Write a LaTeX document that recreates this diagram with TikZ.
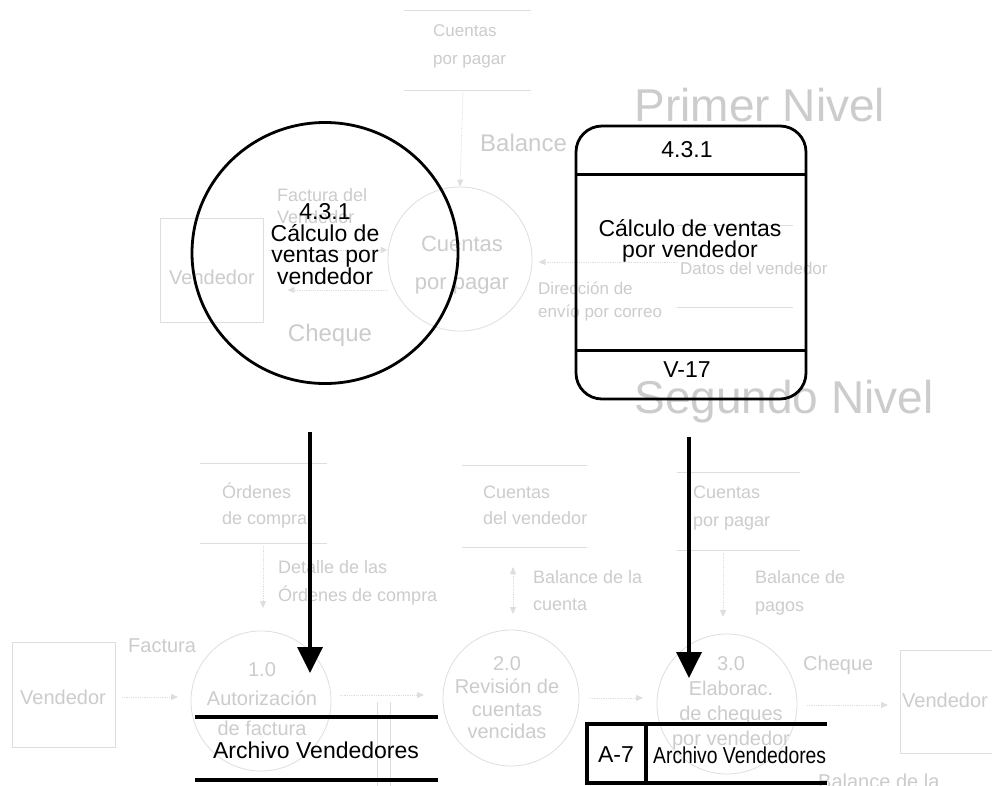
\documentclass[tikz,border=0pt]{standalone}
\usepackage{fontspec}
\usepackage{graphicx}
\setmainfont{Liberation Sans}
\usetikzlibrary{arrows.meta,shapes.geometric}

\colorlet{ghost}{black!20}
\colorlet{ghostline}{black!13}

\tikzset{
  ghosttext/.style={text=ghost, font=\fontsize{18}{26}\selectfont, inner sep=0pt, align=left},
  ghostbig/.style={text=ghost, font=\fontsize{46}{46}\selectfont, inner sep=0pt},
  ghoststore/.style={draw=ghostline, line width=0.8pt},
  ghostflow/.style={draw=ghostline, line width=0.8pt, densely dotted, -{Triangle[length=7pt,width=6pt]}},
  ghostflow2/.style={draw=ghostline, line width=0.8pt, densely dotted, {Triangle[length=7pt,width=6pt]}-{Triangle[length=7pt,width=6pt]}},
  ghostproc/.style={draw=ghostline, line width=0.8pt, circle, inner sep=0pt},
  ghostentity/.style={draw=ghostline, line width=0.8pt, rectangle, inner sep=0pt},
  ghostlabel/.style={text=ghost, font=\fontsize{20}{24}\selectfont, inner sep=0pt, align=center},
  boldtext/.style={font=\fontsize{23}{21.5}\selectfont, inner sep=0pt, align=center},
  boldline/.style={line width=2.8pt},
  storeline/.style={line width=3.6pt},
  flowarrow/.style={line width=3.6pt, -{Triangle[length=26pt,width=25pt]}},
}

\begin{document}
\lineskiplimit=-20pt
\begin{tikzpicture}[x=1pt,y=-1pt]
\clip (0,0) rectangle (992,785);
\fill[white] (0,0) rectangle (992,785);

% ===== faded first-level context diagram =====
\node[ghostbig] (lvl1) at (760,105) {Primer Nivel};
\node[ghostbig] (lvl2) at (784,402) {Segundo Nivel};

% store: Cuentas por pagar
\draw[ghoststore] (404,10) -- (531,10) (404,90) -- (531,90);
\node[ghosttext, font=\fontsize{17}{28}\selectfont, anchor=north west] (cxp1) at (433,24) {Cuentas\\por pagar};
\coordinate (cxp1out) at (463,92);

% process: Cuentas por pagar
\node[ghostproc, minimum size=144pt] (cp) at (460,259) {};
\node[ghostlabel, font=\fontsize{22}{38}\selectfont] (cpt) at (462,265) {Cuentas\\por pagar};
\draw[ghostflow] (cxp1out) -- (cp.north);
\node[ghosttext, font=\fontsize{24}{24}\selectfont, anchor=west] (lbal) at (480,143) {Balance};

% entity: Vendedor
\node[ghostentity, minimum width=103pt, minimum height=104pt] (v1) at (211.5,270) {};
\node[ghostlabel] (v1t) at (212,277) {Vendedor};
\draw[ghostflow] ([xshift=6pt,yshift=20pt]v1.east) -- ([yshift=9pt]cp.west);
\draw[ghostflow] ([yshift=-31pt]cp.west) -- ([xshift=24pt,yshift=-20pt]v1.east);
\node[ghosttext, font=\fontsize{18}{22}\selectfont, anchor=north west] (lfac) at (277,188) {Factura del\\Vendedor};
\node[ghosttext, font=\fontsize{24}{24}\selectfont] (lche) at (330,335) {Cheque};

% store: Datos del vendedor
\draw[ghoststore] (677,225) -- (793,225) (677,307) -- (793,307);
\node[ghosttext, font=\fontsize{17}{22}\selectfont, anchor=west] (dv) at (680,268) {Datos del vendedor};
\coordinate (dvout) at (677,262);
\draw[ghostflow] (dvout) -- ([xshift=6pt,yshift=-3pt]cp.east);
\node[ghosttext, font=\fontsize{17}{23}\selectfont, anchor=north west] (ldir) at (538,282) {Dirección de\\envío por correo};

% ===== faded second-level diagram =====
% store: Ordenes de compra
\draw[ghoststore] (200,463) -- (327,463) (200,543) -- (327,543);
\node[ghosttext, anchor=north west] (oc) at (222,483) {Órdenes\\de compra};
\coordinate (ocout) at (263,546);
\coordinate (ocin) at (263,608);
\draw[ghostflow] (ocout) -- (ocin);
\node[ghosttext, font=\fontsize{18}{28}\selectfont, anchor=north west] (ldet) at (278,560) {Detalle de las\\Órdenes de compra};

% store: Cuentas del vendedor
\draw[ghoststore] (462,465) -- (587,465) (462,547) -- (587,547);
\node[ghosttext, anchor=north west] (cdv) at (483,486) {Cuentas\\del vendedor};
\coordinate (cdva) at (513,567);
\coordinate (cdvb) at (513,614);
\draw[ghostflow2] (cdva) -- (cdvb);
\node[ghosttext, font=\fontsize{18}{27}\selectfont, anchor=north west] (lbc) at (533,570) {Balance de la\\cuenta};

% store: Cuentas por pagar
\draw[ghoststore] (677,472) -- (800,472) (677,550) -- (800,550);
\node[ghosttext, font=\fontsize{18}{28}\selectfont, anchor=north west] (cxp2) at (693,486) {Cuentas\\por pagar};
\coordinate (cxp2out) at (723,553);
\coordinate (cxp2in) at (723,617);
\draw[ghostflow] (cxp2out) -- (cxp2in);
\node[ghosttext, font=\fontsize{18}{28}\selectfont, anchor=north west] (lbp) at (755,570) {Balance de\\pagos};

% bottom row
\node[ghostentity, minimum width=103pt, minimum height=105pt] (v2) at (63.5,694.5) {};
\node[ghostlabel] (v2t) at (63,697) {Vendedor};
\node[ghostproc, minimum size=140pt] (c1) at (261,701) {};
\node[ghostlabel, font=\fontsize{20}{29.5}\selectfont] (c1t) at (262,699) {1.0\\Autorización\\de factura};
\node[ghostproc, minimum size=136pt] (c2) at (511,698) {};
\node[ghostlabel, font=\fontsize{20}{22.7}\selectfont] (c2t) at (507,698) {2.0\\Revisión de\\cuentas\\vencidas};
\node[ghostproc, minimum size=140pt] (c3) at (727,704) {};
\node[ghostlabel, font=\fontsize{20}{25}\selectfont] (c3t) at (731,703) {3.0\\Elaborac.\\de cheques\\por vendedor};
\node[ghostentity, minimum width=103pt, minimum height=103pt] (v3) at (951.5,701.5) {};
\node[ghostlabel] (v3t) at (945,700) {Vendedor};

\coordinate (f1a) at (122,697); \coordinate (f1b) at (178,697);
\coordinate (f2a) at (340,695); \coordinate (f2b) at (424,695);
\coordinate (f3a) at (590,698); \coordinate (f3b) at (643,698);
\coordinate (f4a) at (807,705); \coordinate (f4b) at (888,705);
\draw[ghostflow] (f1a) -- (f1b);
\draw[ghostflow] (f2a) -- (f2b);
\draw[ghostflow] (f3a) -- (f3b);
\draw[ghostflow] (f4a) -- (f4b);
\node[ghosttext, font=\fontsize{20}{24}\selectfont, anchor=west] (lfa) at (128,646) {Factura};
\node[ghosttext, font=\fontsize{20}{24}\selectfont, anchor=west] (lch2) at (803,665) {Cheque};
\node[ghosttext, font=\fontsize{20}{24}\selectfont, anchor=west] (lbl) at (818,781) {Balance de la};
\draw[ghoststore] (377,702) -- (377,790) (390,702) -- (390,790);

% ===== process 4.3.1 as a bubble =====
\node[draw, ellipse, boldline, minimum width=266pt, minimum height=261pt, inner sep=0pt] (proc) at (325,253) {};
\node[boldtext] (proct) at (325,244) {4.3.1\\Cálculo de\\ventas por\\vendedor};

% ===== process 4.3.1 as a card =====
\node[draw, rounded corners=26pt, boldline, minimum width=230pt, minimum height=273pt, inner sep=0pt] (card) at (691,262.5) {};
\draw[boldline] ([yshift=-50pt]card.north west) -- ([yshift=-50pt]card.north east);
\draw[boldline] ([yshift=50pt]card.south west) -- ([yshift=50pt]card.south east);
\node[boldtext] (cardid) at (687,150) {4.3.1};
\node[boldtext] (cardname) at (690,241) {Cálculo de ventas\\por vendedor};
\node[boldtext] (cardloc) at (687,370) {V-17};

% ===== arrows to the data stores =====
\coordinate (a1s) at (310,432); \coordinate (a1e) at (310,673);
\coordinate (a2s) at (689,437); \coordinate (a2e) at (689,678);
\draw[flowarrow] (a1s) -- (a1e);
\draw[flowarrow] (a2s) -- (a2e);

% ===== data store, open form =====
\draw[storeline] (195,717) -- (438,717);
\draw[storeline] (195,780) -- (438,780);
\node[boldtext] (store1) at (316,750) {Archivo Vendedores};

% ===== data store with identifier =====
\draw[storeline] (827,724) -- (587,724) -- (587,783) -- (827,783);
\draw[storeline] (646,724) -- (646,783);
\node[boldtext] (store2id) at (616,755) {A-7};
\node[boldtext, anchor=west] (store2) at (653,755) {\scalebox{0.84}[1]{Archivo Vendedores}};
\end{tikzpicture}
\end{document}
